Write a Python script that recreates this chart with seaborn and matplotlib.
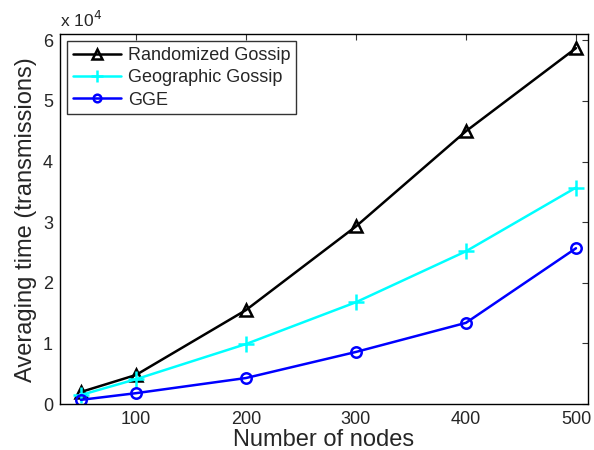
import seaborn as sns
import matplotlib.pyplot as plt
import matplotlib.ticker as mticker
import pandas as pd

nodes = [50, 100, 200, 300, 400, 500]
randomized = [2000, 4800, 15500, 29300, 45000, 58700]
geographic = [1500, 4100, 9900, 16800, 25200, 35700]
gge = [700, 1800, 4300, 8600, 13400, 25700]

sns.set_style('white')
plt.rcParams['font.family'] = ['Liberation Sans', 'DejaVu Sans']

fig = plt.figure(figsize=(5.94, 4.5), dpi=100)
ax = fig.add_axes([0.101, 0.102, 0.889, 0.822])

series = [
    ('Randomized Gossip', randomized, 'black', '^', 9),
    ('Geographic Gossip', geographic, 'cyan', '+', 11),
    ('GGE', gge, 'blue', 'o', 7.5),
]
for name, vals, col, mk, ms in series:
    df = pd.DataFrame({'nodes': nodes, 'time': vals})
    sns.lineplot(data=df, x='nodes', y='time', color=col, marker=mk,
                 markersize=ms, mfc='none', mec=col, mew=1.8, lw=1.8,
                 label=name, ax=ax)

ax.set_xlim(31, 511)
ax.set_ylim(0, 61000)
ax.set_xticks([100, 200, 300, 400, 500])
ax.set_yticks([0, 10000, 20000, 30000, 40000, 50000, 60000])
ax.yaxis.set_major_formatter(mticker.FuncFormatter(lambda v, p: f'{v / 1e4:g}'))
ax.tick_params(direction='in', top=True, right=True, length=4, width=0.8,
               labelsize=13, color='#333333', pad=5)
for s in ax.spines.values():
    s.set_color('black')
    s.set_linewidth(1.0)

ax.set_xlabel('Number of nodes', fontsize=17, labelpad=1)
ax.set_ylabel('Averaging time (transmissions)', fontsize=17, labelpad=4)
ax.text(0.0, 1.012, r'x 10$^4$', transform=ax.transAxes, fontsize=12.5,
        ha='left', va='bottom')

leg = ax.legend(loc='upper left', fontsize=13, frameon=True, fancybox=False,
                borderaxespad=0.4, handlelength=2.7, borderpad=0.3,
                labelspacing=0.3, handletextpad=0.35)
leg.get_frame().set_edgecolor('black')
leg.get_frame().set_linewidth(1.0)
for h, ms in zip(leg.legend_handles, [7, 9, 5.5]):
    h.set_markersize(ms)

fig.savefig('out.png', dpi=100)
